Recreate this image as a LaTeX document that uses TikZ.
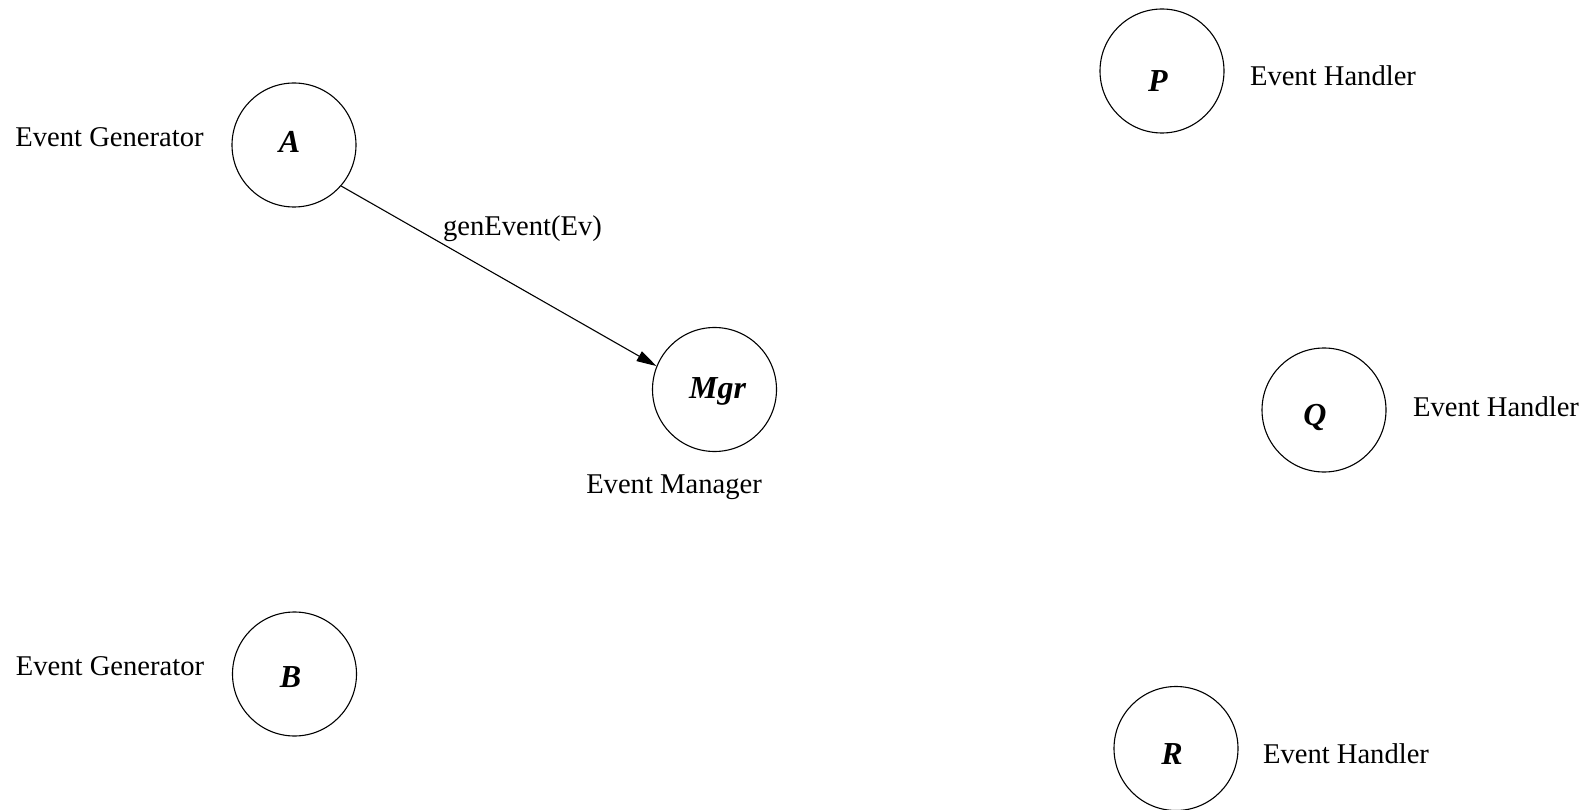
\documentclass[tikz,border=0pt]{standalone}
\usepackage{fontspec}
\setmainfont{Liberation Serif}
\usetikzlibrary{arrows.meta}
\tikzset{
  proc/.style={draw, circle, line width=1.1pt, minimum size=124pt, inner sep=0pt},
  letter/.style={inner sep=0pt, font=\fontsize{32}{36}\selectfont\bfseries\itshape},
  lbl/.style={anchor=base, inner sep=0pt, font=\fontsize{28.6}{34}\selectfont},
  conn/.style={line width=1.1pt, -{Triangle[length=20pt,width=11pt]}}
}
\begin{document}
\begin{tikzpicture}[x=1pt,y=-1pt]
\useasboundingbox (0,0) rectangle (1591,810);
\node[proc] (A) at (294,145) {};
\node[proc] (Mgr) at (714.5,389.5) {};
\node[proc] (P) at (1162,71) {};
\node[proc] (Q) at (1324,410) {};
\node[proc] (B) at (294.5,674) {};
\node[proc] (R) at (1176,748.5) {};
\node[letter] (tA) at (289.5,142) {A};
\node[letter] (tMgr) at (717.5,391.5) {Mgr};
\node[letter] (tP) at (1158,81) {P};
\node[letter] (tQ) at (1315,417) {Q};
\node[letter] (tB) at (290.5,677) {B};
\node[letter] (tR) at (1172,754) {R};
\node[lbl] (la) at (109.5,146.7) {Event Generator};
\node[lbl] (lb) at (110,675) {Event Generator};
\node[lbl] (lm) at (674,493.7) {Event Manager};
\node[lbl] (lp) at (1333,86) {Event Handler};
\node[lbl] (lq) at (1496,417) {Event Handler};
\node[lbl] (lr) at (1346,763.7) {Event Handler};
\draw[conn] (A.-41.2) -- (Mgr.158.3);
\node[lbl] (lev) at (522.5,236) {genEvent(Ev)};
\end{tikzpicture}
\end{document}
